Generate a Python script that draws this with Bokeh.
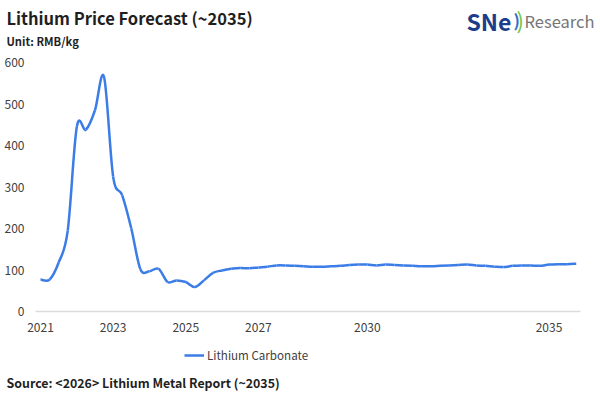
from bokeh.plotting import figure
from bokeh.models import Label, FixedTicker, Legend, LegendItem, ColumnDataSource, Range1d
from bokeh.embed import file_html
from bokeh.resources import INLINE

# ---- data (quarterly, RMB/kg) ----
quarters = [f"{y}Q{q}" for y in range(2021, 2036) for q in range(1, 5)]
lithium_carbonate = [
    77, 77, 118, 195,          # 2021
    445, 438, 485, 565,        # 2022
    325, 280, 200, 102,        # 2023
    97, 103, 71, 75,           # 2024
    71, 59, 75, 93,            # 2025
    99, 103, 105, 104,         # 2026
    106, 108, 111, 111,        # 2027
    110, 109, 108, 108,        # 2028
    109, 110, 112, 113,        # 2029
    113, 111, 113, 112,        # 2030
    111, 110, 109, 109,        # 2031
    110, 111, 112, 113,        # 2032
    111, 110, 108, 107,        # 2033
    110, 111, 111, 110,        # 2034
    113, 114, 114, 115,        # 2035
]
tick_years = ["2021", "2023", "2025", "2027", "2030", "2035"]
y_ticks = [0, 100, 200, 300, 400, 500, 600]
series_name = "Lithium Carbonate"
title_text = "Lithium Price Forecast (~2035)"
unit_text = "Unit: RMB/kg"
source_text = "Source: <2026> Lithium Metal Report (~2035)"

FONT = "Noto Sans CJK KR"
W, H = 600, 395
LINE_COLOR = "#3b7ce6"
TXT = "#1f1f1f"

# smoothed line (Catmull-Rom segments drawn as Bezier curves through every data point)
xs = list(range(len(quarters)))
ys = lithium_carbonate
n = len(xs)
seg = dict(x0=[], y0=[], x1=[], y1=[], cx0=[], cy0=[], cx1=[], cy1=[])
for i in range(n - 1):
    p0 = (xs[max(i - 1, 0)], ys[max(i - 1, 0)])
    p1 = (xs[i], ys[i])
    p2 = (xs[i + 1], ys[i + 1])
    p3 = (xs[min(i + 2, n - 1)], ys[min(i + 2, n - 1)])
    seg["x0"].append(p1[0]); seg["y0"].append(p1[1])
    seg["x1"].append(p2[0]); seg["y1"].append(p2[1])
    seg["cx0"].append(p1[0] + (p2[0] - p0[0]) / 6); seg["cy0"].append(p1[1] + (p2[1] - p0[1]) / 6)
    seg["cx1"].append(p2[0] - (p3[0] - p1[0]) / 6); seg["cy1"].append(p2[1] - (p3[1] - p1[1]) / 6)
src = ColumnDataSource(seg)

# frame covers the whole canvas; axes sit in zero-size panels
PX_X = 9.08          # px per quarter
PX_Y = 0.415         # px per RMB/kg
X0_PX, Y0_PX = 40, 311
x_start = -X0_PX / PX_X
y_start = -(H - Y0_PX) / PX_Y
p = figure(width=W, height=H, output_backend="svg", toolbar_location=None,
           x_range=Range1d(x_start, x_start + W / PX_X),
           y_range=Range1d(y_start, y_start + H / PX_Y),
           min_border_left=0, min_border_right=0, min_border_top=0, min_border_bottom=0)
p.outline_line_color = None
r = p.bezier(x0="x0", y0="y0", x1="x1", y1="y1", cx0="cx0", cy0="cy0", cx1="cx1", cy1="cy1",
             source=src, line_color=LINE_COLOR, line_width=2.5)

tick_idx = [quarters.index(y + "Q1") for y in tick_years]
p.xaxis.ticker = FixedTicker(ticks=tick_idx)
p.xaxis.major_label_overrides = {i: y for i, y in zip(tick_idx, tick_years)}
p.yaxis.ticker = FixedTicker(ticks=y_ticks)
for ax in (p.xaxis, p.yaxis):
    ax.axis_line_color = None
    ax.major_tick_line_color = None
    ax.minor_tick_line_color = None
    ax.major_tick_out = 0
    ax.major_tick_in = 0
    ax.minor_tick_out = 0
    ax.minor_tick_in = 0
    ax.major_label_text_font = FONT
    ax.major_label_text_font_size = "12px"
    ax.major_label_text_color = "#404040"
p.xaxis.major_label_standoff = -(H - 322)
p.yaxis.major_label_standoff = -24

p.xgrid.grid_line_color = None
p.ygrid.ticker = FixedTicker(ticks=[0])
p.ygrid.grid_line_color = "#dcdcdc"
p.ygrid.grid_line_width = 1.5
p.ygrid.cross_bounds = (xs[0] - 0.55, xs[-1] + 0.47)

legend = Legend(items=[LegendItem(label=series_name, renderers=[r])],
                location=(184, H - 356 - 7), orientation="horizontal",
                glyph_width=20, glyph_height=14, label_height=14, label_standoff=3,
                padding=0, margin=0, spacing=0,
                border_line_color=None, background_fill_alpha=0,
                label_text_font=FONT, label_text_font_size="11.6px",
                label_text_color="#404040")
p.add_layout(legend, "center")


def lab(text, px, py, size, color, bold=True):
    p.add_layout(Label(x=px, y=H - py, x_units="screen", y_units="screen",
                       text=text, text_font=FONT, text_font_size=size,
                       text_font_style="bold" if bold else "normal",
                       text_color=color, text_baseline="middle", text_align="left"))


lab(title_text, 6, 17, "16.5px", TXT)
lab(unit_text, 6, 40, "11.2px", TXT)
lab(source_text, 6, 382, "12.4px", TXT)
lab("SNe", 466, 20, "23px", "#1d3c8c")
lab(")", 513, 19, "17px", "#2f6fd0")
lab(")", 516, 18, "22px", "#79c043", bold=False)
lab("Research", 524, 20, "16.5px", "#757575", bold=False)

open("out.html", "w").write(file_html(p, INLINE))
